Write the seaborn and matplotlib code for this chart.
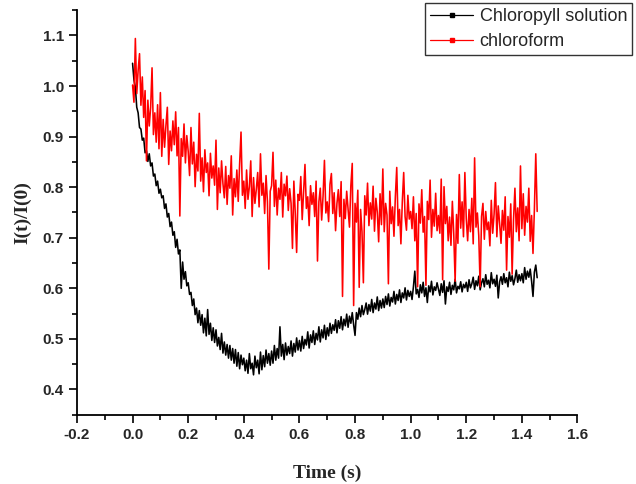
import numpy as np
import pandas as pd
import seaborn as sns
import matplotlib.pyplot as plt
from matplotlib.lines import Line2D
from matplotlib.ticker import MultipleLocator

# sampling step of the recorded traces (s)
sample_step = 0.005

# I(t)/I(0), chlorophyll solution, one value per sample
chlorophyll = [
    1.045, 1.012, 0.998, 0.958, 0.947, 0.918, 0.915, 0.893, 0.897, 0.868, 0.872, 0.851, 0.866, 0.842, 0.848, 0.822, 0.826, 0.803, 0.812, 0.788,
    0.796, 0.779, 0.783, 0.758, 0.767, 0.741, 0.748, 0.722, 0.731, 0.705, 0.712, 0.681, 0.697, 0.668, 0.676, 0.600, 0.652, 0.618, 0.633, 0.605,
    0.611, 0.588, 0.592, 0.566, 0.579, 0.548, 0.561, 0.532, 0.556, 0.527, 0.548, 0.512, 0.541, 0.506, 0.558, 0.509, 0.531, 0.497, 0.522, 0.493,
    0.518, 0.486, 0.503, 0.479, 0.511, 0.472, 0.494, 0.468, 0.489, 0.462, 0.487, 0.458, 0.481, 0.452, 0.479, 0.446, 0.473, 0.441, 0.468, 0.449,
    0.462, 0.437, 0.458, 0.432, 0.471, 0.441, 0.452, 0.429, 0.466, 0.443, 0.458, 0.431, 0.474, 0.439, 0.467, 0.445, 0.478, 0.452, 0.471, 0.448,
    0.476, 0.452, 0.487, 0.458, 0.481, 0.462, 0.524, 0.466, 0.489, 0.459, 0.492, 0.468, 0.485, 0.471, 0.496, 0.466, 0.491, 0.474, 0.502, 0.478,
    0.497, 0.476, 0.505, 0.481, 0.499, 0.488, 0.514, 0.482, 0.508, 0.493, 0.516, 0.489, 0.511, 0.498, 0.524, 0.494, 0.518, 0.502, 0.527, 0.499,
    0.522, 0.506, 0.531, 0.511, 0.528, 0.517, 0.538, 0.512, 0.536, 0.521, 0.544, 0.518, 0.539, 0.526, 0.549, 0.523, 0.545, 0.531, 0.552, 0.528,
    0.507, 0.552, 0.539, 0.561, 0.544, 0.566, 0.548, 0.558, 0.571, 0.549, 0.568, 0.555, 0.578, 0.552, 0.571, 0.559, 0.583, 0.556, 0.576, 0.561,
    0.579, 0.562, 0.584, 0.568, 0.589, 0.565, 0.582, 0.573, 0.594, 0.569, 0.588, 0.576, 0.597, 0.572, 0.591, 0.581, 0.601, 0.577, 0.596, 0.584,
    0.594, 0.578, 0.603, 0.634, 0.589, 0.598, 0.582, 0.607, 0.591, 0.612, 0.584, 0.601, 0.572, 0.605, 0.593, 0.614, 0.587, 0.603, 0.596, 0.611,
    0.598, 0.586, 0.609, 0.592, 0.615, 0.569, 0.603, 0.594, 0.612, 0.588, 0.606, 0.597, 0.618, 0.591, 0.604, 0.599, 0.613, 0.593, 0.608, 0.601,
    0.612, 0.594, 0.617, 0.601, 0.609, 0.622, 0.598, 0.615, 0.605, 0.624, 0.597, 0.611, 0.619, 0.603, 0.627, 0.608, 0.616, 0.601, 0.631, 0.609,
    0.618, 0.604, 0.626, 0.581, 0.613, 0.623, 0.608, 0.629, 0.611, 0.621, 0.603, 0.632, 0.614, 0.625, 0.607, 0.619, 0.636, 0.612, 0.627, 0.615,
    0.629, 0.611, 0.641, 0.618, 0.634, 0.622, 0.638, 0.614, 0.584, 0.632, 0.646, 0.621,
]

# I(t)/I(0), pure chloroform
chloroform = [
    1.002, 0.968, 1.094, 0.985, 1.031, 1.064, 0.962, 1.018, 0.938, 0.991, 0.852, 0.972, 0.921, 0.958, 1.036, 0.904, 0.947, 0.889, 0.963, 0.876,
    0.987, 0.861, 0.934, 0.879, 0.922, 0.958, 0.845, 0.911, 0.872, 0.931, 0.884, 0.949, 0.862, 0.918, 0.743, 0.896, 0.861, 0.925, 0.848, 0.902,
    0.871, 0.823, 0.918, 0.846, 0.889, 0.801, 0.865, 0.832, 0.946, 0.812, 0.858, 0.791, 0.874, 0.829, 0.848, 0.783, 0.867, 0.818, 0.842, 0.804,
    0.893, 0.756, 0.838, 0.789, 0.852, 0.807, 0.779, 0.841, 0.766, 0.823, 0.798, 0.862, 0.745, 0.817, 0.781, 0.834, 0.772, 0.846, 0.909, 0.784,
    0.812, 0.758, 0.834, 0.776, 0.801, 0.852, 0.742, 0.819, 0.768, 0.796, 0.829, 0.761, 0.866, 0.784, 0.808, 0.748, 0.823, 0.771, 0.638, 0.792,
    0.803, 0.869, 0.762, 0.814, 0.745, 0.798, 0.776, 0.829, 0.741, 0.806, 0.783, 0.822, 0.754, 0.797, 0.768, 0.679, 0.812, 0.749, 0.671, 0.786,
    0.774, 0.821, 0.736, 0.792, 0.845, 0.758, 0.781, 0.724, 0.803, 0.766, 0.789, 0.742, 0.812, 0.654, 0.771, 0.798, 0.735, 0.782, 0.853, 0.749,
    0.771, 0.732, 0.806, 0.827, 0.748, 0.789, 0.714, 0.768, 0.795, 0.742, 0.811, 0.584, 0.776, 0.738, 0.792, 0.756, 0.721, 0.803, 0.847, 0.566,
    0.768, 0.731, 0.794, 0.602, 0.756, 0.712, 0.611, 0.783, 0.745, 0.808, 0.724, 0.769, 0.737, 0.802, 0.713, 0.778, 0.751, 0.692, 0.787, 0.726,
    0.836, 0.712, 0.768, 0.745, 0.609, 0.792, 0.728, 0.761, 0.703, 0.781, 0.839, 0.724, 0.756, 0.688, 0.771, 0.829, 0.742, 0.715, 0.784, 0.737,
    0.752, 0.718, 0.781, 0.694, 0.748, 0.603, 0.767, 0.729, 0.795, 0.711, 0.742, 0.606, 0.772, 0.736, 0.814, 0.701, 0.756, 0.723, 0.788, 0.714,
    0.744, 0.709, 0.816, 0.617, 0.801, 0.728, 0.762, 0.694, 0.741, 0.685, 0.772, 0.708, 0.614, 0.746, 0.689, 0.825, 0.719, 0.771, 0.702, 0.829,
    0.738, 0.694, 0.756, 0.712, 0.778, 0.688, 0.858, 0.721, 0.749, 0.704, 0.603, 0.742, 0.768, 0.697, 0.752, 0.716, 0.731, 0.684, 0.774, 0.709,
    0.746, 0.809, 0.702, 0.763, 0.728, 0.689, 0.754, 0.715, 0.781, 0.636, 0.742, 0.701, 0.767, 0.628, 0.736, 0.798, 0.712, 0.759, 0.694, 0.842,
    0.718, 0.787, 0.705, 0.762, 0.731, 0.798, 0.693, 0.744, 0.669, 0.756, 0.866, 0.752,
]

series_names = ["Chloropyll solution", "chloroform"]
series_colors = ["#000000", "#ff0000"]

time = np.round(np.arange(len(chlorophyll)) * sample_step, 4)
df = pd.DataFrame({"time": time, series_names[0]: chlorophyll, series_names[1]: chloroform})

sns.set_style("ticks")
plt.rcParams["font.family"] = ["Liberation Sans", "DejaVu Sans"]
plt.rcParams["axes.unicode_minus"] = False

fig = plt.figure(figsize=(6.36, 4.84), dpi=100)
ax = fig.add_axes([0.121, 0.143, 0.787, 0.836])

for name, color in zip(series_names, series_colors):
    sns.lineplot(data=df, x="time", y=name, color=color, lw=1.15, ax=ax, legend=False)

ax.set_xlim(-0.2, 1.6)
ax.set_ylim(0.35, 1.15)
ax.xaxis.set_major_locator(MultipleLocator(0.2))
ax.xaxis.set_minor_locator(MultipleLocator(0.1))
ax.yaxis.set_major_locator(MultipleLocator(0.1))
ax.yaxis.set_minor_locator(MultipleLocator(0.05))
ax.xaxis.set_major_formatter(lambda v, p: f"{v:.1f}")
ax.yaxis.set_major_formatter(lambda v, p: f"{v:.1f}")

sns.despine(ax=ax)
for side in ["left", "bottom"]:
    ax.spines[side].set_linewidth(1.3)
    ax.spines[side].set_color("black")
ax.tick_params(which="major", direction="out", length=6, width=1.2, color="black")
ax.tick_params(which="minor", direction="out", length=3.5, width=1.2, color="black")
for lab in ax.get_xticklabels() + ax.get_yticklabels():
    lab.set_fontweight("bold")
    lab.set_fontsize(11)

ax.set_xlabel("Time (s)", fontfamily="Liberation Serif", fontweight="bold", fontsize=14, labelpad=16)
ax.set_ylabel("I(t)/I(0)", fontfamily="Liberation Serif", fontweight="bold", fontsize=14, labelpad=8)

handles = [
    Line2D([], [], color=c, lw=0.9, marker="s", markersize=3) for c in series_colors
]
leg = fig.legend(
    handles, series_names,
    loc="upper left", bbox_to_anchor=(0.669, 0.993),
    fontsize=13, frameon=True, fancybox=False,
    handlelength=2.4, handletextpad=0.35, labelspacing=0.45,
    borderpad=0.25, borderaxespad=0,
)
leg.get_frame().set_edgecolor("black")
leg.get_frame().set_linewidth(1.0)

fig.savefig("out.png", dpi=100)
